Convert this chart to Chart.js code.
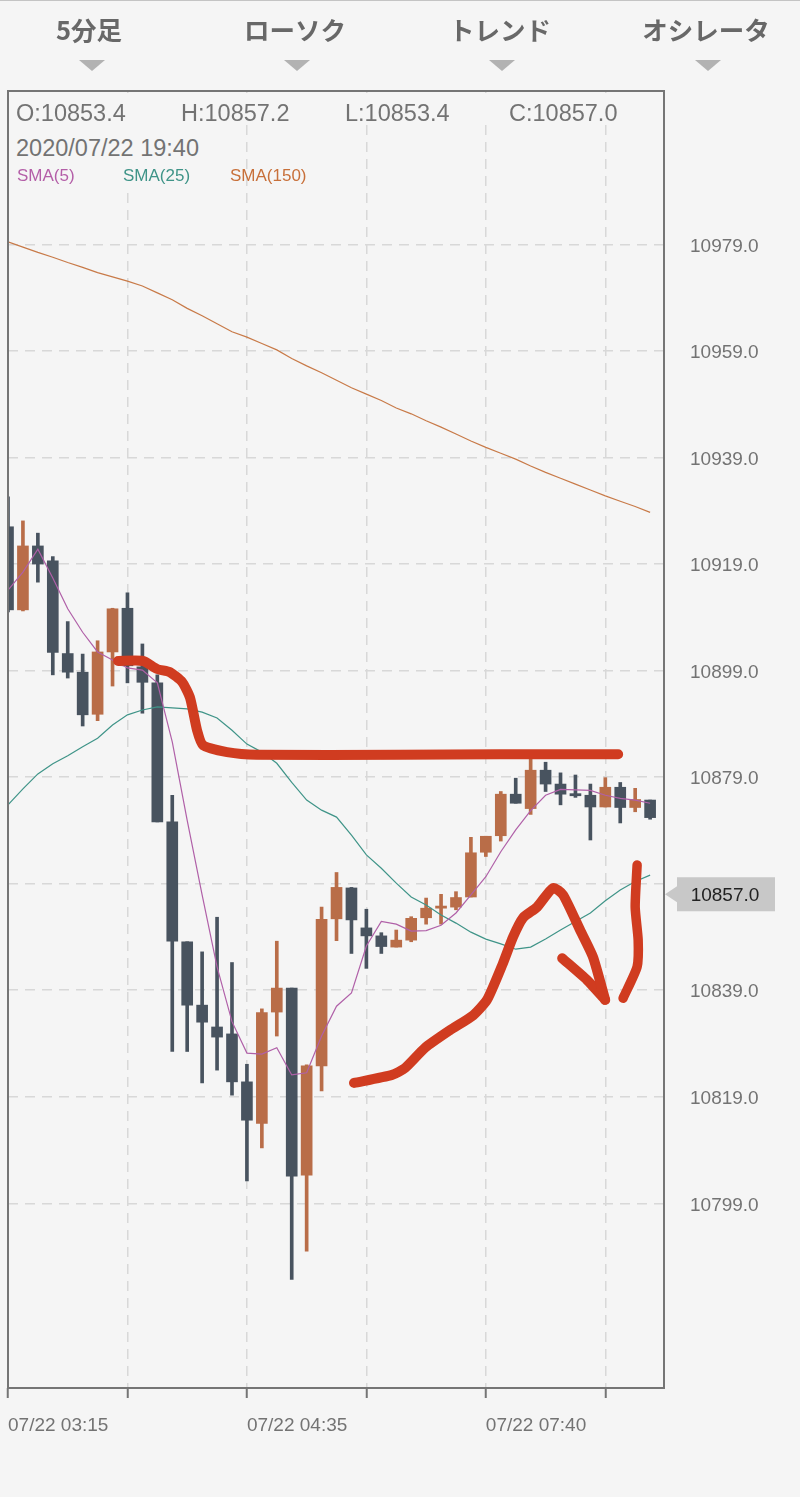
<!DOCTYPE html>
<html lang="ja">
<head>
<meta charset="utf-8">
<title>5分足</title>
<script src="https://cdn.jsdelivr.net/npm/chart.js@4"></script>
<style>
html, body { margin: 0; padding: 0; background: #f5f5f5; }
body { position: relative; width: 800px; height: 1497px; overflow: hidden; font-family: "Liberation Sans", sans-serif; }
canvas { position: absolute; left: 0; top: 0; }
.topline { position: absolute; left: 0; top: 0; width: 800px; height: 1px; background: #c4c4c4; }
.tab { position: absolute; top: 12px; width: 160px; text-align: center; font: bold 25.5px "Noto Sans CJK JP", sans-serif; line-height: 34px; color: #686868; }
.arrow { position: absolute; top: 60px; width: 0; height: 0; border-left: 13px solid transparent; border-right: 13px solid transparent; border-top: 11px solid #b2b2b2; }
.cover { position: absolute; background: #f5f5f5; }
.info { position: absolute; font-size: 23.5px; line-height: 26px; color: #737373; white-space: nowrap; }
.sma { position: absolute; top: 166px; font-size: 17px; line-height: 20px; white-space: nowrap; }
</style>
</head>
<body>
<canvas id="chart" width="800" height="1497"></canvas>
<div class="topline"></div>
<div class="tab" style="left:9px">5分足</div>
<div class="tab" style="left:215px">ローソク</div>
<div class="tab" style="left:420px">トレンド</div>
<div class="tab" style="left:626px">オシレータ</div>
<div class="arrow" style="left:79px"></div>
<div class="arrow" style="left:284px"></div>
<div class="arrow" style="left:489px"></div>
<div class="arrow" style="left:695px"></div>
<div class="cover" style="left:9px;top:93px;width:654px;height:32px"></div>
<div class="cover" style="left:9px;top:125px;width:221px;height:68px"></div>
<div class="info" style="left:16px;top:100px">O:10853.4</div>
<div class="info" style="left:181px;top:100px">H:10857.2</div>
<div class="info" style="left:345px;top:100px">L:10853.4</div>
<div class="info" style="left:509px;top:100px">C:10857.0</div>
<div class="info" style="left:16px;top:135px">2020/07/22 19:40</div>
<div class="sma" style="left:17px;color:#b45fa8">SMA(5)</div>
<div class="sma" style="left:123px;color:#3f9488">SMA(25)</div>
<div class="sma" style="left:230px;color:#c8703a">SMA(150)</div>
<script>
const open = [10926.0,10910.4,10922.4,10919.6,10902.2,10898.7,10890.8,10902.5,10910.7,10899.7,10896.7,10870.6,10848.1,10836.2,10832.1,10830.8,10821.8,10814.0,10834.9,10839.4,10804.3,10824.8,10852.4,10858.2,10850.7,10849.2,10847.1,10848.4,10852.6,10854.4,10854.6,10856.5,10864.9,10868.0,10875.8,10873.1,10880.3,10877.7,10875.9,10875.6,10873.4,10877.1,10873.3,10874.7];
const high = [10931.6,10927.1,10924.8,10920.4,10908.2,10902.1,10904.6,10910.7,10913.6,10904.0,10898.2,10875.6,10848.1,10846.2,10852.7,10844.2,10825.1,10835.5,10848.2,10839.4,10825.0,10854.6,10861.1,10858.3,10854.2,10849.8,10850.3,10852.8,10856.3,10857.0,10857.5,10867.7,10867.9,10876.3,10878.8,10882.6,10881.8,10879.8,10879.4,10877.7,10878.9,10878.0,10876.9,10874.7];
const low = [10910.0,10910.2,10915.6,10898.2,10897.6,10888.6,10889.6,10896.1,10896.7,10891.0,10870.6,10827.5,10827.5,10821.6,10824.0,10819.3,10803.2,10809.4,10830.4,10784.7,10790.0,10820.1,10848.3,10845.9,10843.1,10845.9,10847.1,10848.1,10851.4,10851.4,10854.1,10856.5,10864.1,10867.0,10874.1,10872.0,10876.3,10873.8,10875.2,10867.2,10873.4,10870.4,10872.5,10871.1];
const close = [10910.4,10922.4,10919.0,10902.4,10898.7,10890.7,10902.5,10910.6,10899.9,10896.8,10870.6,10848.2,10836.2,10833.0,10830.2,10821.8,10814.6,10834.8,10839.4,10804.1,10824.8,10852.3,10858.3,10852.2,10849.2,10847.2,10848.4,10852.5,10854.4,10854.8,10856.4,10864.8,10867.9,10875.8,10874.1,10880.3,10877.7,10875.8,10875.5,10873.4,10877.1,10873.3,10874.8,10871.4];

const sma5 = [10914.1,10917.5,10921.8,10916.4,10910.6,10906.2,10902.5,10901.0,10899.5,10899.1,10896.7,10885.6,10870.9,10856.9,10843.4,10833.1,10827.2,10827.0,10828.2,10823.1,10823.5,10830.4,10836.0,10838.5,10847.3,10851.9,10851.4,10850.1,10850.2,10851.2,10853.5,10856.9,10860.3,10865.0,10869.1,10872.7,10875.6,10876.7,10876.6,10876.5,10875.6,10875.0,10874.7,10874.1];
const sma25 = [10873.8,10876.8,10879.6,10881.5,10883.0,10884.7,10886.3,10888.8,10890.7,10891.6,10892.2,10892.0,10891.8,10891.2,10890.1,10887.8,10885.2,10883.7,10881.6,10878.0,10874.7,10872.8,10871.5,10868.1,10864.4,10861.9,10859.1,10856.5,10855.0,10853.1,10851.6,10849.9,10848.6,10847.7,10846.7,10847.1,10848.6,10850.3,10851.9,10853.5,10855.8,10857.8,10859.4,10860.6];
const sma150 = [10979.5,10978.5,10977.5,10976.6,10975.6,10974.7,10973.7,10972.9,10972.1,10971.2,10969.9,10968.6,10967.0,10965.6,10964.1,10962.6,10961.6,10960.4,10959.2,10957.6,10956.2,10954.9,10953.5,10952.1,10950.9,10949.7,10948.3,10947.2,10945.9,10944.7,10943.4,10942.1,10940.9,10939.8,10938.7,10937.4,10936.2,10935.1,10934.0,10932.9,10931.8,10930.8,10929.8,10928.7];

// 手書きの赤線
const inkFlatX = [7.37,9.04,9.98,10.85,11.65,12.19,12.66,13.06,14.67,16.68,26.26,32.95,40.86];
const inkFlatY = [10900.8,10900.8,10899.3,10898.7,10896.9,10893.9,10887.8,10885.0,10883.7,10883.2,10883.2,10883.3,10883.3];
const inkRiseX = [23.17,25.72,26.59,27.93,29.60,31.15,32.08,33.15,33.82,34.49,35.43,36.50,37.17,38.31,39.18,39.99];
const inkRiseY = [10821.6,10823.1,10824.4,10828.2,10831.5,10834.3,10837.2,10844.1,10849.0,10852.6,10854.6,10858.2,10856.9,10850.3,10845.2,10837.2];
const inkHeadX = [37.11,38.78,39.99];
const inkHeadY = [10845.0,10840.9,10837.2];
const inkDropX = [42.13,42.00,42.20,42.13,41.19];
const inkDropY = [10862.5,10854.6,10848.4,10843.4,10837.5];

const yTicks = [10799,10819,10839,10859,10879,10899,10919,10939,10959,10979];
const xTickLabels = ['07/22 03:15','','07/22 04:35','','07/22 07:40',''];
const lastPrice = 10857.0;

const upColor = '#b96d48';
const downColor = '#48535f';
const inkColor = '#d03c20';
const frameColor = '#757575';

const indexes = open.map((v, i) => i);
const candleColor = c => close[c.dataIndex] >= open[c.dataIndex] ? upColor : downColor;

function inkLine(xs, ys, width) {
    return {
        type: 'line',
        data: xs.map((x, i) => ({x: x, y: ys[i]})),
        borderColor: inkColor,
        borderWidth: width,
        borderCapStyle: 'round',
        borderJoinStyle: 'round',
        tension: 0.2,
        pointRadius: 0,
        order: 0
    };
}

function smaLine(values, color) {
    return {
        type: 'line',
        data: values.map((v, i) => ({x: i, y: v})),
        borderColor: color,
        borderWidth: 1.2,
        tension: 0,
        pointRadius: 0,
        order: 1
    };
}

// 枠と現在値タグ
const framePlugin = {
    id: 'frame',
    afterDraw(chart) {
        const ctx = chart.ctx;
        const a = chart.chartArea;
        ctx.save();
        ctx.strokeStyle = frameColor;
        ctx.lineWidth = 2;
        ctx.strokeRect(a.left, a.top, a.right - a.left, a.bottom - a.top);
        const y = chart.scales.y.getPixelForValue(lastPrice);
        ctx.fillStyle = '#c8c8c8';
        ctx.beginPath();
        ctx.moveTo(a.right + 1, y);
        ctx.lineTo(677, y - 8);
        ctx.lineTo(677, y - 17);
        ctx.lineTo(775, y - 17);
        ctx.lineTo(775, y + 17);
        ctx.lineTo(677, y + 17);
        ctx.lineTo(677, y + 8);
        ctx.closePath();
        ctx.fill();
        ctx.fillStyle = '#222';
        ctx.font = '19px "Liberation Sans"';
        ctx.textAlign = 'center';
        ctx.textBaseline = 'middle';
        ctx.fillText(lastPrice.toFixed(1), 725, y + 1);
        ctx.restore();
    }
};

new Chart(document.getElementById('chart').getContext('2d'), {
    type: 'bar',
    data: {
        datasets: [
            inkLine(inkFlatX, inkFlatY, 10),
            inkLine(inkRiseX, inkRiseY, 10),
            inkLine(inkHeadX, inkHeadY, 10),
            inkLine(inkDropX, inkDropY, 9.5),
            smaLine(sma5, '#b060a8'),
            smaLine(sma25, '#3f9488'),
            smaLine(sma150, '#c87a48'),
            {
                data: indexes.map(i => ({x: i, y: [open[i], close[i]]})),
                backgroundColor: candleColor,
                barThickness: 11,
                order: 2
            },
            {
                data: indexes.map(i => ({x: i, y: [low[i], high[i]]})),
                backgroundColor: candleColor,
                barThickness: 3,
                order: 3
            }
        ]
    },
    plugins: [framePlugin],
    options: {
        responsive: false,
        animation: false,
        devicePixelRatio: 1,
        layout: {
            padding: {left: 8, top: 91, right: 0, bottom: 0}
        },
        datasets: {
            bar: {grouped: false}
        },
        plugins: {
            legend: {display: false},
            tooltip: {enabled: false}
        },
        scales: {
            x: {
                type: 'linear',
                offset: false,
                min: 0,
                max: 43.93,
                afterFit(scale) {
                    scale.height = 109;
                    scale.paddingLeft = 0;
                    scale.paddingRight = 0;
                },
                grid: {
                    offset: false,
                    color: '#d8d8d8',
                    lineWidth: 1.5,
                    tickColor: frameColor,
                    tickWidth: 2,
                    tickLength: 10
                },
                border: {display: false, dash: [10, 7]},
                ticks: {
                    stepSize: 8,
                    includeBounds: false,
                    autoSkip: false,
                    maxRotation: 0,
                    align: 'start',
                    padding: 16,
                    color: '#737373',
                    font: {family: 'Liberation Sans', size: 19},
                    callback: (v, i) => xTickLabels[i]
                }
            },
            y: {
                type: 'linear',
                position: 'right',
                min: 10764.33,
                max: 11007.8,
                afterFit(scale) { scale.width = 136; },
                afterBuildTicks(scale) {
                    scale.ticks = yTicks.map(v => ({value: v}));
                },
                grid: {
                    color: '#d8d8d8',
                    lineWidth: 1.5,
                    drawTicks: false
                },
                border: {display: false, dash: [10, 7]},
                ticks: {
                    autoSkip: false,
                    padding: 26,
                    labelOffset: 2,
                    color: '#737373',
                    font: {family: 'Liberation Sans', size: 19},
                    callback: v => v.toFixed(1)
                }
            }
        }
    }
});
</script>
</body>
</html>
